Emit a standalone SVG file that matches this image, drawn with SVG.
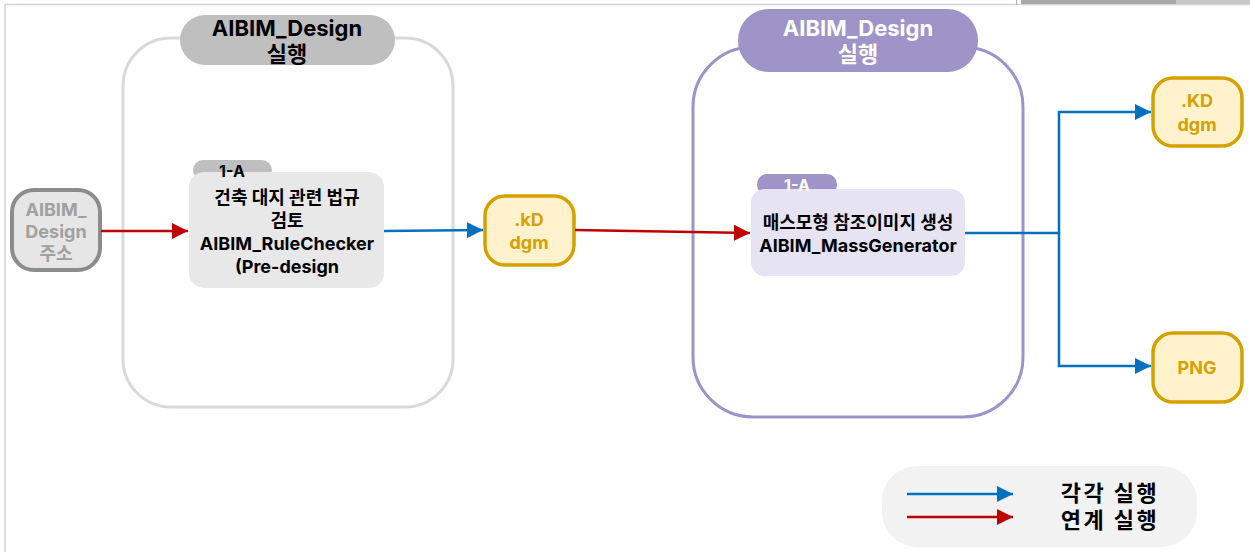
<svg xmlns="http://www.w3.org/2000/svg" width="1250" height="552" viewBox="0 0 1250 552">
<style>
text{font-family:"Inter","Noto Sans CJK KR",sans-serif;font-weight:700;text-anchor:middle;dominant-baseline:central}
.t17{font-size:18px;fill:#000}
.title{font-size:22px}
.gold{fill:#fff2cc;stroke:#d4a100;stroke-width:3.5}
.goldt{font-size:18px;fill:#d4a100}
.blue{stroke:#0070c0;stroke-width:2.5;fill:none}
.red{stroke:#c00000;stroke-width:2.5;fill:none}
</style>
<defs>
<marker id="ab" viewBox="0 0 10 10" refX="10" refY="5" markerWidth="6.5" markerHeight="6.5" markerUnits="strokeWidth" orient="auto"><path d="M0,0L10,5L0,10z" fill="#0070c0"/></marker>
<marker id="ar" viewBox="0 0 10 10" refX="10" refY="5" markerWidth="6.5" markerHeight="6.5" markerUnits="strokeWidth" orient="auto"><path d="M0,0L10,5L0,10z" fill="#c00000"/></marker>
</defs>
<rect width="1250" height="552" fill="#fff"/>
<g id="frame">
<line x1="5" y1="4.5" x2="1250" y2="4.5" stroke="#d4d0ec" stroke-width="1.5"/>
<line x1="5" y1="4" x2="5" y2="552" stroke="#d4d0ec" stroke-width="1.5"/>
<rect x="1016" y="0" width="1" height="5" fill="#b0b0b0"/>
<rect x="1021" y="0" width="155" height="4" fill="#a8a8a8"/>
<rect x="1176" y="0" width="74" height="4" fill="#c8c8c8"/>
</g>
<g id="container-gray">
<rect x="123" y="38" width="330" height="369" rx="48" fill="none" stroke="#d9d9d9" stroke-width="3"/>
<rect x="180" y="15" width="215" height="50" rx="25" fill="#bfbfbf"/>
<text class="title" x="287" y="28" fill="#000">AIBIM_Design</text>
<text class="title" x="287" y="54" fill="#000">실행</text>
</g>
<g id="container-purple">
<rect x="693" y="47" width="330" height="370" rx="60" fill="none" stroke="#9d93c9" stroke-width="3"/>
<rect x="738" y="9" width="240" height="63" rx="31" fill="#9f94c8"/>
<text class="title" x="858" y="28" fill="#fff">AIBIM_Design</text>
<text class="title" x="858" y="54" fill="#fff">실행</text>
</g>
<g id="node-input">
<rect x="12" y="190" width="88" height="80" rx="22" fill="#e6e6e6" stroke="#8c8c8c" stroke-width="4"/>
<text x="56" y="209" style="font-size:18px;fill:#a0a0a0">AIBIM_</text>
<text x="56" y="231" style="font-size:18px;fill:#a0a0a0">Design</text>
<text x="56" y="253" style="font-size:18px;fill:#a0a0a0">주소</text>
</g>
<g id="node-rulechecker">
<rect x="193" y="160" width="79" height="20" rx="10" fill="#bfbfbf"/>
<rect x="189" y="172" width="195" height="116" rx="15" fill="#e8e8e8"/>
<text x="232" y="171" style="font-size:16px;fill:#000">1-A</text>
<text class="t17" x="287" y="197">건축 대지 관련 법규</text>
<text class="t17" x="287" y="220">검토</text>
<text class="t17" x="287" y="243">AIBIM_RuleChecker</text>
<text class="t17" x="287" y="266">(Pre-design</text>
</g>
<g id="node-kd1">
<rect class="gold" x="485" y="196" width="89" height="69" rx="20"/>
<text class="goldt" x="529" y="219">.kD</text>
<text class="goldt" x="529" y="242">dgm</text>
</g>
<g id="node-massgenerator">
<rect x="757" y="174" width="80" height="21" rx="10" fill="#9f94c8"/>
<rect x="751" y="189" width="214" height="87" rx="14" fill="#e6e4f3"/>
<text x="797" y="185" style="font-size:16px;fill:#fff">1-A</text>
<text class="t17" x="858" y="222">매스모형 참조이미지 생성</text>
<text class="t17" x="858" y="245">AIBIM_MassGenerator</text>
</g>
<g id="node-kd2">
<rect class="gold" x="1153" y="78" width="89" height="68" rx="20"/>
<text class="goldt" x="1197" y="100">.KD</text>
<text class="goldt" x="1197" y="124">dgm</text>
</g>
<g id="node-png">
<rect class="gold" x="1153" y="333" width="89" height="69" rx="20"/>
<text class="goldt" x="1197" y="367">PNG</text>
</g>
<g id="connectors">
<line class="red" x1="101" y1="231" x2="188" y2="231" marker-end="url(#ar)"/>
<line class="blue" x1="384" y1="231" x2="483" y2="230" marker-end="url(#ab)"/>
<line class="red" x1="575" y1="230" x2="750" y2="233" marker-end="url(#ar)"/>
<polyline class="blue" points="965,233 1059,233 1059,112 1151,112" marker-end="url(#ab)"/>
<polyline class="blue" points="1059,233 1059,366 1151,366" marker-end="url(#ab)"/>
</g>
<g id="legend">
<rect x="882" y="466" width="315" height="81" rx="35" fill="#f2f2f2"/>
<line class="blue" x1="907" y1="494" x2="1013" y2="494" marker-end="url(#ab)"/>
<line class="red" x1="907" y1="517" x2="1013" y2="517" marker-end="url(#ar)"/>
<text x="1110" y="493" style="font-size:22px;fill:#000;letter-spacing:2.5px">각각 실행</text>
<text x="1110" y="520" style="font-size:22px;fill:#000;letter-spacing:2.5px">연계 실행</text>
</g>
</svg>
